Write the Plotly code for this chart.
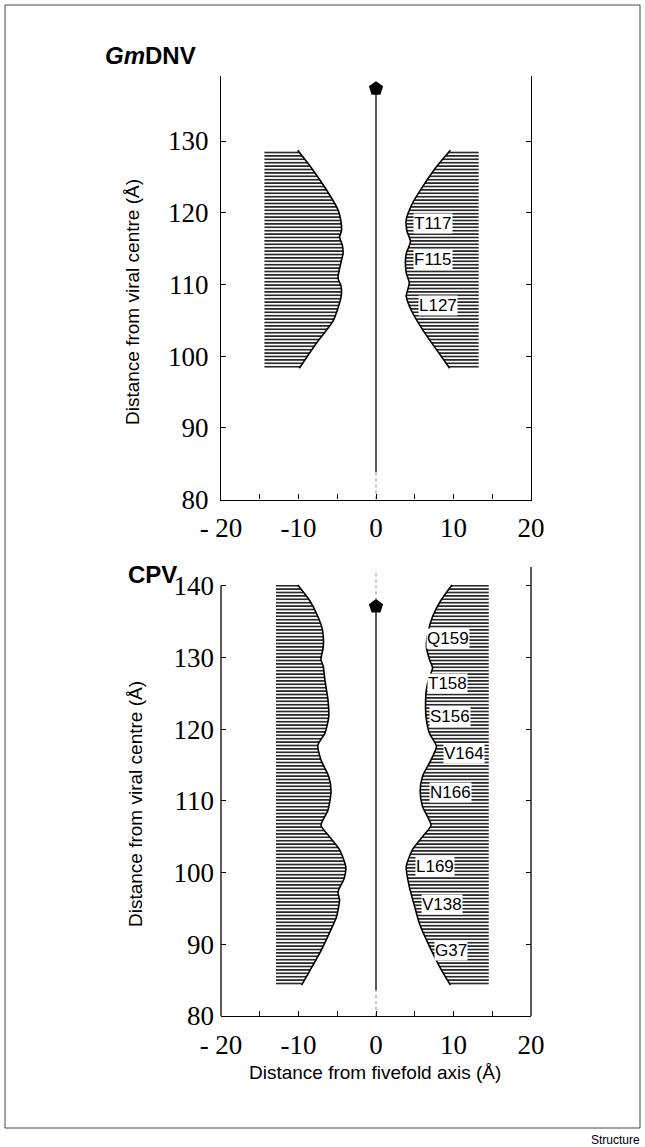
import plotly.graph_objects as go

# ---------------- data ----------------
x_tickvals = [-20, -15, -10, -5, 0, 5, 10, 15, 20]
x_ticktext = ["- 20", "", "-10", "", "0", "", "10", "", "20"]
y_tickvals_top = [80, 90, 100, 110, 120, 130]
y_tickvals_bot = [80, 90, 100, 110, 120, 130, 140]

# GmDNV channel profile (inner boundary of the hatched regions)
gm_left_y = [128.7, 125.9, 123.2, 120.4, 119.0, 117.5, 116.6, 115.5, 114.3, 113.4,
             110.9, 109.7, 108.3, 105.0, 101.8, 98.3]
gm_left_x = [-10.1, -8.1, -6.4, -4.9, -4.55, -4.45, -4.7, -4.35, -4.25, -4.45,
             -4.9, -4.5, -4.5, -5.5, -7.7, -9.9]
gm_right_y = [128.7, 126.4, 123.6, 121.3, 119.0, 117.4, 116.0, 114.3, 113.4, 111.6,
              110.2, 108.4, 106.5, 103.7, 100.9, 98.3]
gm_right_x = [9.6, 7.8, 6.0, 4.7, 3.9, 4.0, 4.45, 3.9, 3.8, 3.9,
              4.3, 3.9, 4.5, 6.0, 7.8, 9.5]
gm_outer = [-14.4, 13.25]
gm_labels = ["T117", "F115", "L127"]
gm_label_x = [7.3, 7.3, 8.0]
gm_label_y = [118.5, 113.5, 107.1]
gm_axis = [83.8, 137.3]

# CPV channel profile
cpv_left_y = [140.1, 138.0, 135.7, 133.8, 131.5, 129.7, 128.7, 126.9, 124.1, 121.7,
              119.4, 117.8, 115.7, 113.4, 111.3, 108.7, 106.6, 105.0, 103.2, 100.8,
              99.2, 97.3, 96.2, 93.8, 91.6, 88.7, 86.2, 84.3]
cpv_left_x = [-10.1, -8.6, -7.5, -6.9, -6.8, -7.1, -6.8, -6.6, -6.2, -6.1,
              -6.6, -7.5, -7.1, -6.1, -5.8, -6.2, -7.1, -6.0, -4.7, -3.9,
              -4.1, -4.9, -4.7, -5.1, -6.0, -7.3, -8.6, -9.6]
cpv_right_y = [140.1, 138.0, 135.7, 133.4, 131.5, 129.7, 128.5, 127.3, 125.5, 122.7,
               121.3, 119.4, 117.6, 115.7, 113.4, 111.3, 109.2, 106.6, 105.0, 103.2,
               100.8, 98.0, 95.2, 92.9, 89.7, 86.9, 84.3]
cpv_right_x = [9.8, 8.4, 7.3, 6.7, 6.5, 6.9, 7.3, 6.9, 6.5, 6.4,
               6.5, 6.9, 7.8, 7.1, 6.0, 5.7, 6.0, 7.1, 6.0, 4.7,
               3.9, 4.3, 5.0, 5.6, 6.9, 8.2, 9.6]
cpv_outer = [-12.9, 14.55]
cpv_labels = ["Q159", "T158", "S156", "V164", "N166", "L169", "V138", "G37"]
cpv_label_x = [9.35, 9.26, 9.56, 11.3, 9.56, 7.63, 8.5, 9.69]
cpv_label_y = [132.7, 126.4, 121.7, 116.6, 111.1, 100.8, 95.5, 89.2]
cpv_axis = [83.6, 137.1]
cpv_axis_top = 142.2

# ---------------- figure ----------------
fig = go.Figure()
HATCH = dict(shape="-", size=3.4, solidity=0.42, fgcolor="black", bgcolor="white", fgopacity=1)


def add_profile(xs, ys, outer, xa, ya):
    px = [outer] + xs + [outer, outer]
    py = [ys[0]] + ys + [ys[-1], ys[0]]
    fig.add_trace(go.Scatter(x=px, y=py, mode="lines", fill="toself",
                             fillcolor="white", fillpattern=HATCH,
                             line=dict(width=0, color="rgba(0,0,0,0)"),
                             xaxis=xa, yaxis=ya, hoverinfo="skip", showlegend=False))
    fig.add_trace(go.Scatter(x=xs, y=ys, mode="lines",
                             line=dict(width=1.6, color="black", shape="spline", smoothing=0.6),
                             xaxis=xa, yaxis=ya, hoverinfo="skip", showlegend=False))


def add_axisline(y0, y1, ytop, xa, ya):
    fig.add_trace(go.Scatter(x=[0, 0], y=[80, y0], mode="lines",
                             line=dict(width=1, color="#888", dash="dot"),
                             xaxis=xa, yaxis=ya, hoverinfo="skip", showlegend=False))
    if ytop is not None:
        fig.add_trace(go.Scatter(x=[0, 0], y=[y1, ytop], mode="lines",
                                 line=dict(width=1, color="#888", dash="dot"),
                                 xaxis=xa, yaxis=ya, hoverinfo="skip", showlegend=False))
    fig.add_trace(go.Scatter(x=[0, 0], y=[y0, y1], mode="lines",
                             line=dict(width=1.3, color="black"),
                             xaxis=xa, yaxis=ya, hoverinfo="skip", showlegend=False))
    fig.add_trace(go.Scatter(x=[0], y=[y1], mode="markers",
                             marker=dict(symbol="pentagon", size=15, color="black"),
                             xaxis=xa, yaxis=ya, hoverinfo="skip", showlegend=False))


# top panel (GmDNV)
add_profile(gm_left_x, gm_left_y, gm_outer[0], "x", "y")
add_profile(gm_right_x, gm_right_y, gm_outer[1], "x", "y")
add_axisline(gm_axis[0], gm_axis[1], None, "x", "y")
# bottom panel (CPV)
add_profile(cpv_left_x, cpv_left_y, cpv_outer[0], "x2", "y2")
add_profile(cpv_right_x, cpv_right_y, cpv_outer[1], "x2", "y2")
add_axisline(cpv_axis[0], cpv_axis[1], cpv_axis_top, "x2", "y2")

annotations = []
for t, x, y in zip(gm_labels, gm_label_x, gm_label_y):
    annotations.append(dict(x=x, y=y, xref="x", yref="y", text=t, showarrow=False,
                            font=dict(family="Liberation Sans", size=17, color="black"),
                            bgcolor="white", borderpad=0))
for t, x, y in zip(cpv_labels, cpv_label_x, cpv_label_y):
    annotations.append(dict(x=x, y=y, xref="x2", yref="y2", text=t, showarrow=False,
                            font=dict(family="Liberation Sans", size=17, color="black"),
                            bgcolor="white", borderpad=0))

W, H = 645, 1147
annotations += [
    dict(x=103 / W, y=1 - 55 / H, xref="paper", yref="paper", xanchor="left", yanchor="middle",
         text="<b><i>Gm</i>DNV</b>", showarrow=False,
         font=dict(family="Liberation Sans", size=24, color="black")),
    dict(x=126 / W, y=1 - 574 / H, xref="paper", yref="paper", xanchor="left", yanchor="middle",
         text="<b>CPV</b>", showarrow=False,
         font=dict(family="Liberation Sans", size=24, color="black")),
    dict(x=132 / W, y=1 - 302 / H, xref="paper", yref="paper", xanchor="center", yanchor="middle",
         text="Distance from viral centre (Å)", textangle=-90, showarrow=False,
         font=dict(family="Liberation Sans", size=19, color="black")),
    dict(x=135 / W, y=1 - 804 / H, xref="paper", yref="paper", xanchor="center", yanchor="middle",
         text="Distance from viral centre (Å)", textangle=-90, showarrow=False,
         font=dict(family="Liberation Sans", size=19, color="black")),
    dict(x=375 / W, y=1 - 1072 / H, xref="paper", yref="paper", xanchor="center", yanchor="middle",
         text="Distance from fivefold axis (Å)", showarrow=False,
         font=dict(family="Liberation Sans", size=19, color="black")),
    dict(x=642 / W, y=1 - 1140 / H, xref="paper", yref="paper", xanchor="right", yanchor="middle",
         text="Structure", showarrow=False,
         font=dict(family="Liberation Sans", size=12, color="black")),
]

xdom = [221 / W, 531 / W]
ydom_top = [1 - 499.5 / H, 1 - 76 / H]
ydom_bot = [1 - 1016 / H, 1 - 567 / H]
tick_font = dict(family="Liberation Serif", size=27, color="black")

xa_common = dict(range=[-20, 20], tickvals=x_tickvals, ticktext=x_ticktext, ticks="inside",
                 ticklen=5, tickcolor="black", showline=True, linecolor="black", linewidth=1.3,
                 showgrid=False, zeroline=False, tickfont=tick_font, ticklabelstandoff=4,
                 domain=xdom, fixedrange=True, automargin=False)

fig.update_layout(
    width=W, height=H, margin=dict(l=0, r=0, t=0, b=0, autoexpand=False),
    paper_bgcolor="white", plot_bgcolor="white", showlegend=False,
    xaxis=dict(**xa_common, anchor="y"),
    yaxis=dict(range=[80, 139.07], tickvals=y_tickvals_top, ticks="inside", ticklen=5,
               tickcolor="black", showline=True, mirror="ticks", linecolor="black",
               linewidth=1.3, showgrid=False, zeroline=False, tickfont=tick_font,
               ticklabelstandoff=6, domain=ydom_top, anchor="x", automargin=False),
    xaxis2=dict(**xa_common, anchor="y2"),
    yaxis2=dict(range=[80, 142.6], tickvals=y_tickvals_bot, ticks="inside", ticklen=5,
                tickcolor="black", showline=False, mirror="ticks", showgrid=False,
                zeroline=False, tickfont=tick_font, ticklabelstandoff=6,
                domain=ydom_bot, anchor="x2", automargin=False),
    annotations=annotations,
    shapes=[
        dict(type="line", xref="paper", yref="y2", x0=xdom[0], x1=xdom[0], y0=80, y1=140,
             line=dict(color="black", width=1.3)),
        dict(type="line", xref="paper", yref="y2", x0=xdom[1], x1=xdom[1], y0=80, y1=142.6,
             line=dict(color="black", width=1.3)),
        dict(type="rect", xref="paper", yref="paper", x0=5 / W, x1=640 / W,
             y0=1 - 1128 / H, y1=1 - 5 / H, line=dict(color="#444", width=1)),
    ],
)

fig.write_html("out.html", config={"displayModeBar": False},
               post_script="document.body.style.margin='0';document.body.style.overflow='hidden';")
